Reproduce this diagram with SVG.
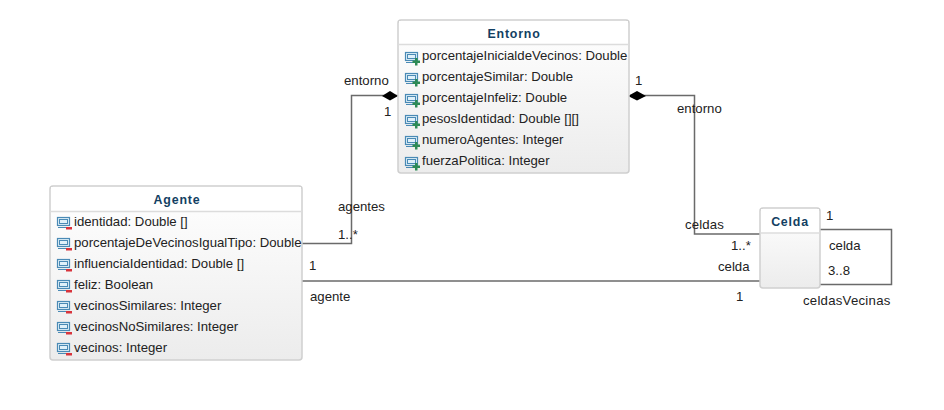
<svg xmlns="http://www.w3.org/2000/svg" width="944" height="410" viewBox="0 0 944 410">
<style>
text{font-family:"Liberation Sans",Arial,sans-serif;font-size:13.2px;fill:#222}
.lbl{letter-spacing:.15px}
.title{font-weight:700;font-size:12.4px;fill:#123f63;text-anchor:middle;letter-spacing:.8px}
.box{fill:url(#g);stroke:#cfcfcf;stroke-width:1.5}
.sep{stroke:#dcdcdc;stroke-width:1.5}
.head{fill:#fff}
.c{fill:none;stroke:#6a6a6a;stroke-width:1.5}
.i1{fill:#dff0f9;stroke:#4a8ab5;stroke-width:1.2}
.i2{fill:none;stroke:#4a8ab5;stroke-width:1}
.plus{fill:#2d8a55}
.minus{fill:#d8343c}
</style>
<defs>
<linearGradient id="g" x1="0" y1="0" x2="0" y2="1"><stop offset="0" stop-color="#fff"/><stop offset="1" stop-color="#ececec"/></linearGradient>
<g id="ic"><rect class="i1" x="0.500" y="0.500" width="12" height="8"/><rect class="i2" x="2.500" y="2.500" width="8" height="4"/><path class="i2" d="M1 10.500H12"/></g>
<g id="pub"><use href="#ic"/><path class="plus" d="M10 6h2.500v2.500H15V11h-2.500v2.500H10V11H7.500V8.500H10z"/></g>
<g id="pri"><use href="#ic"/><rect class="minus" x="9" y="10" width="6" height="2.500"/></g>
</defs>
<g id="connectors">
<path class="c" d="M302 243.500H351.500V95.500H398"/>
<path class="c" d="M630 95.500H694.500V234H760"/>
<path class="c" d="M302 281H760"/>
<path class="c" d="M820 229.500H891.500V284.500H820"/>
<path d="M382 96l8-5 8 5-8 4.500z" fill="#000"/>
<path d="M628 96l9-5 9 5-9 4.500z" fill="#000"/>
<text x="344" y="85">entorno</text><text x="384" y="116">1</text>
<text x="338" y="211">agentes</text><text x="338" y="239">1..*</text>
<text x="635" y="85">1</text><text x="677" y="113">entorno</text>
<text class="lbl" x="685" y="229">celdas</text><text x="731" y="250">1..*</text>
<text x="718" y="271">celda</text><text x="736" y="301">1</text>
<text x="309" y="270">1</text><text x="310" y="301">agente</text>
<text x="826" y="220">1</text><text x="829" y="250">celda</text><text x="828" y="275">3..8</text><text class="lbl" x="803" y="305" style="letter-spacing:.25px">celdasVecinas</text>
</g>
<g id="Entorno">
<rect class="box" x="398" y="20" width="231" height="153" rx="3"/>
<path class="head" d="M399 21h229v23H399z"/><path class="sep" d="M398 44.500H629"/>
<text class="title" x="514" y="38">Entorno</text>
<use href="#pub" x="405" y="52"/><text x="422" y="60">porcentajeInicialdeVecinos: Double</text>
<use href="#pub" x="405" y="73"/><text x="422" y="81">porcentajeSimilar: Double</text>
<use href="#pub" x="405" y="94"/><text x="422" y="102">porcentajeInfeliz: Double</text>
<use href="#pub" x="405" y="115"/><text x="422" y="123">pesosIdentidad: Double [][]</text>
<use href="#pub" x="405" y="136"/><text x="422" y="144">numeroAgentes: Integer</text>
<use href="#pub" x="405" y="157"/><text x="422" y="165">fuerzaPolitica: Integer</text>
</g>
<g id="Agente">
<rect class="box" x="50" y="186" width="252" height="174" rx="3"/>
<path class="head" d="M51 187h250v24H51z"/><path class="sep" d="M50 211.500H302"/>
<text class="title" x="177" y="204">Agente</text>
<use href="#pri" x="57" y="217"/><text x="74" y="226">identidad: Double []</text>
<use href="#pri" x="57" y="238"/><text x="74" y="247">porcentajeDeVecinosIgualTipo: Double</text>
<use href="#pri" x="57" y="259"/><text x="74" y="268">influenciaIdentidad: Double []</text>
<use href="#pri" x="57" y="280"/><text x="74" y="289">feliz: Boolean</text>
<use href="#pri" x="57" y="301"/><text x="74" y="310">vecinosSimilares: Integer</text>
<use href="#pri" x="57" y="322"/><text x="74" y="331">vecinosNoSimilares: Integer</text>
<use href="#pri" x="57" y="343"/><text x="74" y="352">vecinos: Integer</text>
</g>
<g id="Celda">
<rect class="box" x="760" y="208" width="60" height="80" rx="3"/>
<path class="head" d="M761 209h58v24h-58z"/><path class="sep" d="M760 233H820"/>
<text class="title" x="790" y="226">Celda</text>
</g>
</svg>
